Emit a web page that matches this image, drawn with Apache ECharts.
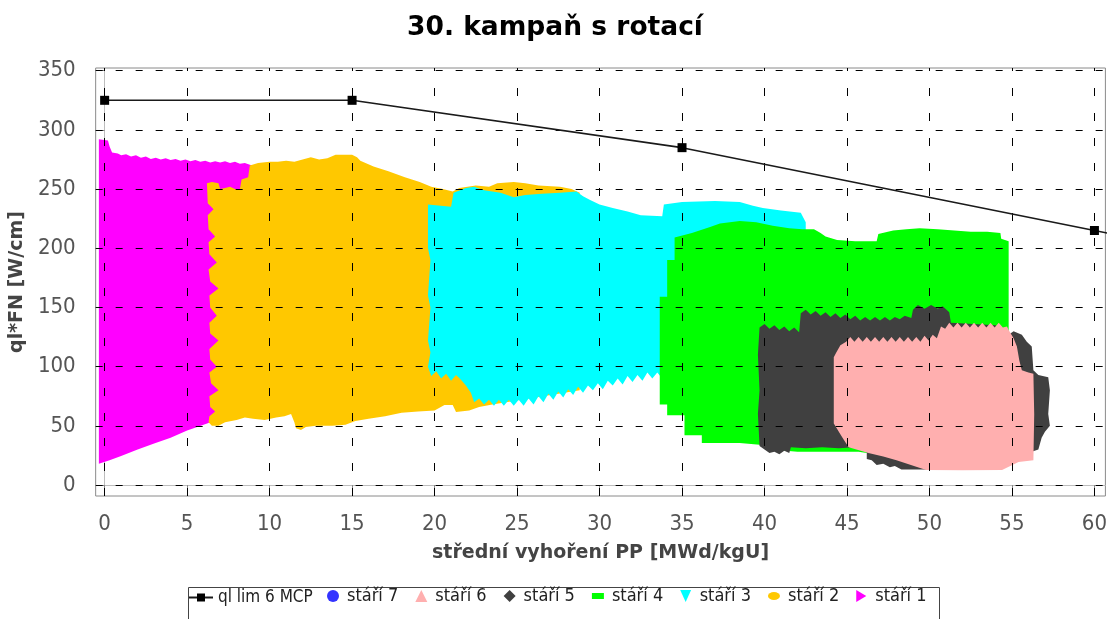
<!DOCTYPE html>
<html>
<head>
<meta charset="utf-8">
<script src="https://cdn.jsdelivr.net/npm/echarts@6/dist/echarts.min.js"></script>
<style>
  html, body { margin: 0; padding: 0; background: #ffffff; }
  #chart { width: 1110px; height: 619px; }
</style>
</head>
<body>
<div id="chart"></div>
<script>
// Axis ticks
const xTicks = [0, 5, 10, 15, 20, 25, 30, 35, 40, 45, 50, 55, 60];
const yTicks = [0, 50, 100, 150, 200, 250, 300, 350];

// Power limit curve (burnup [MWd/kgU], ql*FN [W/cm])
const limitLine = [[0, 325], [15, 325], [35, 285], [60, 215], [65, 201]];

// Envelopes of the point clouds per fuel age, as outline vertices [burnup, ql*FN]
const stari1 = [
  [-0.35, 18], [-0.35, 292], [0.2, 291], [0.3, 286], [0.45, 281], [0.8, 280], [1.0, 278.5], [1.3, 279.5],
  [1.6, 277.5], [1.9, 278.5], [2.2, 276.5], [2.5, 277.5], [2.8, 275.5], [3.1, 276.5], [3.4, 275],
  [3.7, 276], [4.0, 274.5], [4.3, 275.5], [4.6, 274], [4.9, 275], [5.2, 273.5], [5.5, 274.5],
  [5.8, 273], [6.1, 274], [6.4, 272.5], [6.7, 273.5], [7.0, 272.5], [7.3, 273.5], [7.6, 272],
  [7.9, 273], [8.2, 271.5], [8.5, 272], [8.8, 270.5], [9.2, 269], [9.2, 66], [8.0, 61], [7.0, 56],
  [6.0, 51], [5.0, 46], [4.0, 40], [3.0, 35], [2.0, 30], [1.0, 24.5], [0.3, 21]
];
const stari2 = [
  [6.5, 50], [6.3, 53], [6.35, 58], [6.7, 62], [6.4, 66], [6.35, 75], [6.9, 80], [6.45, 86], [6.35, 95],
  [6.8, 100], [6.4, 106], [6.35, 115], [6.9, 122], [6.4, 128], [6.35, 137], [6.8, 143], [6.4, 150],
  [6.35, 160], [6.9, 166], [6.4, 172], [6.3, 182], [6.8, 188], [6.35, 195], [6.3, 205], [6.7, 210],
  [6.3, 216], [6.25, 228], [6.6, 233], [6.25, 238], [6.2, 255],
  [6.5, 256], [6.9, 255], [7.0, 250], [7.3, 251], [7.6, 252], [7.9, 250], [8.2, 250], [8.3, 258],
  [8.7, 260], [8.8, 270], [9.3, 272], [10.0, 273], [10.5, 273], [11.0, 274], [11.5, 273], [12.0, 275],
  [12.5, 277], [13.0, 275], [13.5, 276], [14.0, 279], [14.5, 279], [15.0, 279], [15.3, 277],
  [15.5, 274], [16.3, 269], [17.2, 265], [18.2, 260], [19.1, 256], [19.8, 252], [20.5, 250],
  [21.1, 248], [21.5, 251], [22.5, 253], [23.3, 252], [23.8, 255], [24.8, 256], [25.5, 255],
  [26.3, 253], [27.6, 252], [28.3, 250], [28.8, 247], [28.8, 80],
  [23.5, 68], [22.7, 66], [22.1, 63], [21.3, 61.7], [21.1, 67.6], [20.6, 67.6], [20.0, 63],
  [19.0, 62], [18.0, 61], [17.0, 58], [16.0, 56], [15.2, 54], [14.6, 51], [13.8, 50], [12.8, 50],
  [12.2, 49], [11.9, 46.5], [11.6, 48], [11.5, 53], [11.3, 60], [10.9, 58], [10.4, 57], [9.7, 55],
  [9.0, 56], [8.5, 57], [8.0, 55], [7.3, 53], [6.9, 50]
];
const stari3 = [
  [19.6, 237], [21.0, 235], [21.15, 247], [21.9, 251], [22.4, 252], [23.0, 249], [24.0, 247],
  [24.8, 243], [25.5, 245], [26.5, 246], [27.6, 247], [28.6, 248], [29.0, 244], [29.4, 241],
  [30.0, 237], [30.8, 234], [31.7, 231], [32.5, 228], [33.8, 227], [33.9, 237], [35.0, 239],
  [37.0, 240], [38.5, 239], [39.3, 236], [39.9, 234], [41.0, 232], [42.2, 230], [42.5, 222],
  [42.5, 90],
  [33.8, 90], [33.5, 95], [33.2, 90], [32.9, 95], [32.6, 88], [32.3, 93], [32.0, 87], [31.7, 92],
  [31.4, 85], [31.1, 90], [30.8, 84], [30.5, 88], [30.2, 81], [29.9, 86], [29.6, 80], [29.3, 84],
  [29.0, 78], [28.7, 83], [28.4, 76], [28.1, 81], [27.8, 74], [27.5, 79], [27.2, 72], [26.9, 77],
  [26.6, 70], [26.3, 75], [26.0, 68], [25.7, 73], [25.4, 67], [25.1, 72], [24.8, 67], [24.5, 72],
  [24.2, 67], [23.9, 72], [23.6, 67], [23.3, 72], [23.0, 68], [22.7, 73], [22.4, 70], [22.2, 78],
  [21.9, 84], [21.6, 89], [21.3, 93], [21.0, 88], [20.7, 94], [20.4, 90], [20.1, 96], [19.8, 92],
  [19.6, 100], [19.75, 112], [19.6, 122], [19.75, 150], [19.6, 160], [19.75, 190], [19.6, 200]
];
const stari4 = [
  [33.65, 68], [33.65, 159], [34.1, 159], [34.1, 190], [34.55, 190], [34.55, 209], [35.6, 213],
  [36.7, 218], [37.3, 221], [38.5, 223], [39.5, 222], [40.5, 219], [41.5, 217], [42.3, 216],
  [43.0, 216], [43.4, 213], [43.7, 210], [44.4, 207], [45.5, 206], [46.8, 206], [46.9, 212],
  [47.8, 215], [48.6, 216], [49.4, 217], [50.5, 216], [51.5, 215], [52.5, 214], [53.5, 214],
  [54.3, 213], [54.35, 208], [54.8, 206], [54.8, 30],
  [46.2, 27], [45.7, 28], [42.0, 28], [40.4, 30], [39.7, 34], [38.5, 35.5], [36.2, 35.5],
  [36.2, 42], [35.15, 42], [35.15, 59], [34.1, 59], [34.1, 68]
];
const stari5 = [
  [39.7, 133], [40.0, 136], [40.3, 132], [40.6, 135], [40.9, 131], [41.2, 134], [41.5, 130],
  [41.8, 133], [42.1, 129], [42.2, 145], [42.5, 148], [42.8, 144], [43.1, 147], [43.4, 143],
  [43.7, 146], [44.0, 142], [44.3, 145], [44.6, 141], [44.9, 144], [45.2, 140], [45.5, 143],
  [45.8, 139], [46.1, 142], [46.4, 139], [46.7, 142], [47.0, 139], [47.3, 142], [47.6, 139],
  [47.9, 142], [48.2, 140], [48.5, 143], [48.9, 141], [49.0, 148], [49.3, 152], [49.7, 149],
  [50.1, 152], [50.5, 149], [50.8, 151], [51.2, 146], [51.3, 137], [54.0, 135], [54.8, 127],
  [55.1, 130], [55.6, 127], [55.9, 121], [56.2, 117], [56.3, 97], [56.6, 93], [57.2, 91],
  [57.3, 80], [57.2, 60], [57.3, 50], [57.0, 45], [56.8, 40], [56.6, 30], [56.2, 28], [55.0, 20],
  [51.0, 13], [48.3, 13], [47.9, 16], [47.6, 15], [47.2, 18], [46.8, 17], [46.5, 21], [46.2, 22],
  [46.2, 31], [45.5, 32], [44.5, 31], [43.5, 32], [42.5, 31], [41.6, 32], [41.5, 27], [41.2, 29],
  [40.9, 26], [40.6, 28], [40.3, 27], [40.0, 30], [39.7, 33], [39.6, 60], [39.7, 80], [39.6, 110]
];
const stari6 = [
  [44.2, 108], [44.35, 112], [44.6, 118], [44.95, 121], [45.2, 125], [45.45, 121], [45.7, 125],
  [45.95, 121], [46.2, 125], [46.45, 121], [46.7, 125], [46.95, 121], [47.2, 125], [47.45, 121],
  [47.7, 125], [47.95, 121], [48.2, 125], [48.45, 121], [48.7, 125], [48.95, 121], [49.2, 125],
  [49.45, 121], [49.7, 126], [49.95, 122], [50.2, 127], [50.45, 124], [50.7, 134], [50.95, 132],
  [51.2, 137], [51.45, 133], [51.7, 137], [51.95, 133], [52.2, 137], [52.45, 133], [52.7, 137],
  [52.95, 133], [53.2, 137], [53.45, 133], [53.7, 137], [53.95, 133], [54.2, 137], [54.45, 133],
  [54.7, 134], [54.8, 131], [55.1, 124], [55.3, 117], [55.45, 105], [55.6, 97], [56.0, 95],
  [56.3, 94], [56.35, 60], [56.3, 21], [55.4, 19.4], [54.4, 12.7], [52.0, 12.5], [49.8, 12.7],
  [48.0, 21], [47.2, 24], [46.3, 27], [45.1, 32], [44.7, 40.5], [44.2, 52]
];

const NARROW = '"DejaVu Sans Condensed", sans-serif';
const BOLD = '"DejaVu Sans", sans-serif';

function areaSeries(name, color, outline) {
  return {
    name: name,
    type: 'custom',
    coordinateSystem: 'cartesian2d',
    silent: true,
    animation: false,
    itemStyle: { color: color },
    encode: { x: 0, y: 1 },
    data: outline,
    renderItem: function (params, api) {
      if (params.dataIndex !== 0) return null;
      return {
        type: 'polygon',
        shape: { points: outline.map(function (p) { return api.coord(p); }) },
        style: { fill: color }
      };
    }
  };
}

const chart = echarts.init(document.getElementById('chart'), null, { renderer: 'canvas' });

// Dashed plot grid
const gridLines = []
  .concat(yTicks.map(function (v) {
    return { yAxis: v, lineStyle: { type: [7, 13], color: '#000', width: 1 } };
  }))
  .concat(xTicks.map(function (v) {
    return { xAxis: v, lineStyle: { type: [8, 17], color: '#000', width: 1 } };
  }));

chart.setOption({
  animation: false,
  backgroundColor: '#ffffff',
  title: {
    text: '30. kampaň s rotací',
    left: 'center',
    top: 10,
    textStyle: { fontFamily: BOLD, fontWeight: 'bold', fontSize: 26.5, color: '#000' }
  },
  grid: {
    left: 94, right: 3, top: 68, bottom: 123,
    show: true, borderColor: '#8a8a8a', borderWidth: 1, backgroundColor: '#ffffff'
  },
  xAxis: {
    type: 'value',
    min: -0.544, max: 60.665,
    offset: 7,
    name: 'střední vyhoření PP [MWd/kgU]',
    nameLocation: 'middle',
    nameGap: 41,
    nameTextStyle: { fontFamily: BOLD, fontWeight: 'bold', fontSize: 19, color: '#444' },
    axisLine: { show: true, lineStyle: { color: '#bdbdbd', width: 1 } },
    axisTick: { show: true, customValues: xTicks, length: 4, lineStyle: { color: '#888' } },
    axisLabel: { customValues: xTicks, margin: 10, fontFamily: NARROW, fontSize: 22, color: '#555' },
    splitLine: { show: false }
  },
  yAxis: {
    type: 'value',
    min: -9.29, max: 352.3,
    offset: 9,
    name: 'ql*FN [W/cm]',
    nameLocation: 'middle',
    nameRotate: 90,
    nameGap: 59,
    nameTextStyle: { fontFamily: BOLD, fontWeight: 'bold', fontSize: 19, color: '#444' },
    axisLine: { show: true, lineStyle: { color: '#bdbdbd', width: 1 } },
    axisTick: { show: true, customValues: yTicks, length: 4, lineStyle: { color: '#888' } },
    axisLabel: { customValues: yTicks, margin: 11, fontFamily: NARROW, fontSize: 22, color: '#555' },
    splitLine: { show: false }
  },
  legend: [
    {
      data: ['ql lim 6 MCP'],
      left: 183, top: 584,
      itemWidth: 24, itemHeight: 10,
      textStyle: { fontFamily: NARROW, fontSize: 17, color: '#222' },
      selectedMode: false
    },
    {
      data: [
        { name: 'stáří 7', icon: 'circle' },
        { name: 'stáří 6', icon: 'triangle' },
        { name: 'stáří 5', icon: 'diamond' },
        { name: 'stáří 4', icon: 'path://M0,0H16V8H0Z' },
        { name: 'stáří 3', icon: 'path://M0,0L10,0L5,11Z' },
        { name: 'stáří 2', icon: 'path://M0,4A6,4 0 1,0 12,4A6,4 0 1,0 0,4Z' },
        { name: 'stáří 1', icon: 'path://M0,0L10,6L0,12Z' }
      ],
      left: 322, top: 582,
      itemWidth: 12, itemHeight: 12, itemGap: 17,
      textStyle: { fontFamily: NARROW, fontSize: 18, color: '#222', padding: [0, 0, 0, 3] },
      selectedMode: false
    }
  ],
  graphic: [
    {
      type: 'rect', left: 186, top: 585, silent: true,
      shape: { width: 751, height: 50 },
      style: { fill: 'none', stroke: '#444', lineWidth: 1 }
    }
  ],
  series: [
    {
      name: 'grid',
      type: 'line',
      data: [],
      silent: true,
      z: 1,
      markLine: {
        silent: true, symbol: ['none', 'none'], animation: false,
        label: { show: false },
        data: gridLines
      }
    },
    areaSeries('stáří 1', '#ff00ff', stari1),
    areaSeries('stáří 2', '#ffc800', stari2),
    areaSeries('stáří 3', '#00ffff', stari3),
    areaSeries('stáří 4', '#00ff00', stari4),
    areaSeries('stáří 5', '#404040', stari5),
    areaSeries('stáří 6', '#ffafaf', stari6),
    { name: 'stáří 7', type: 'scatter', data: [], itemStyle: { color: '#0000ff' } },
    {
      name: 'ql lim 6 MCP',
      type: 'line',
      data: limitLine,
      z: 10,
      symbol: 'rect',
      symbolSize: 9,
      itemStyle: { color: '#000' },
      lineStyle: { color: '#1a1a1a', width: 1.6 }
    }
  ]
});
</script>
</body>
</html>
